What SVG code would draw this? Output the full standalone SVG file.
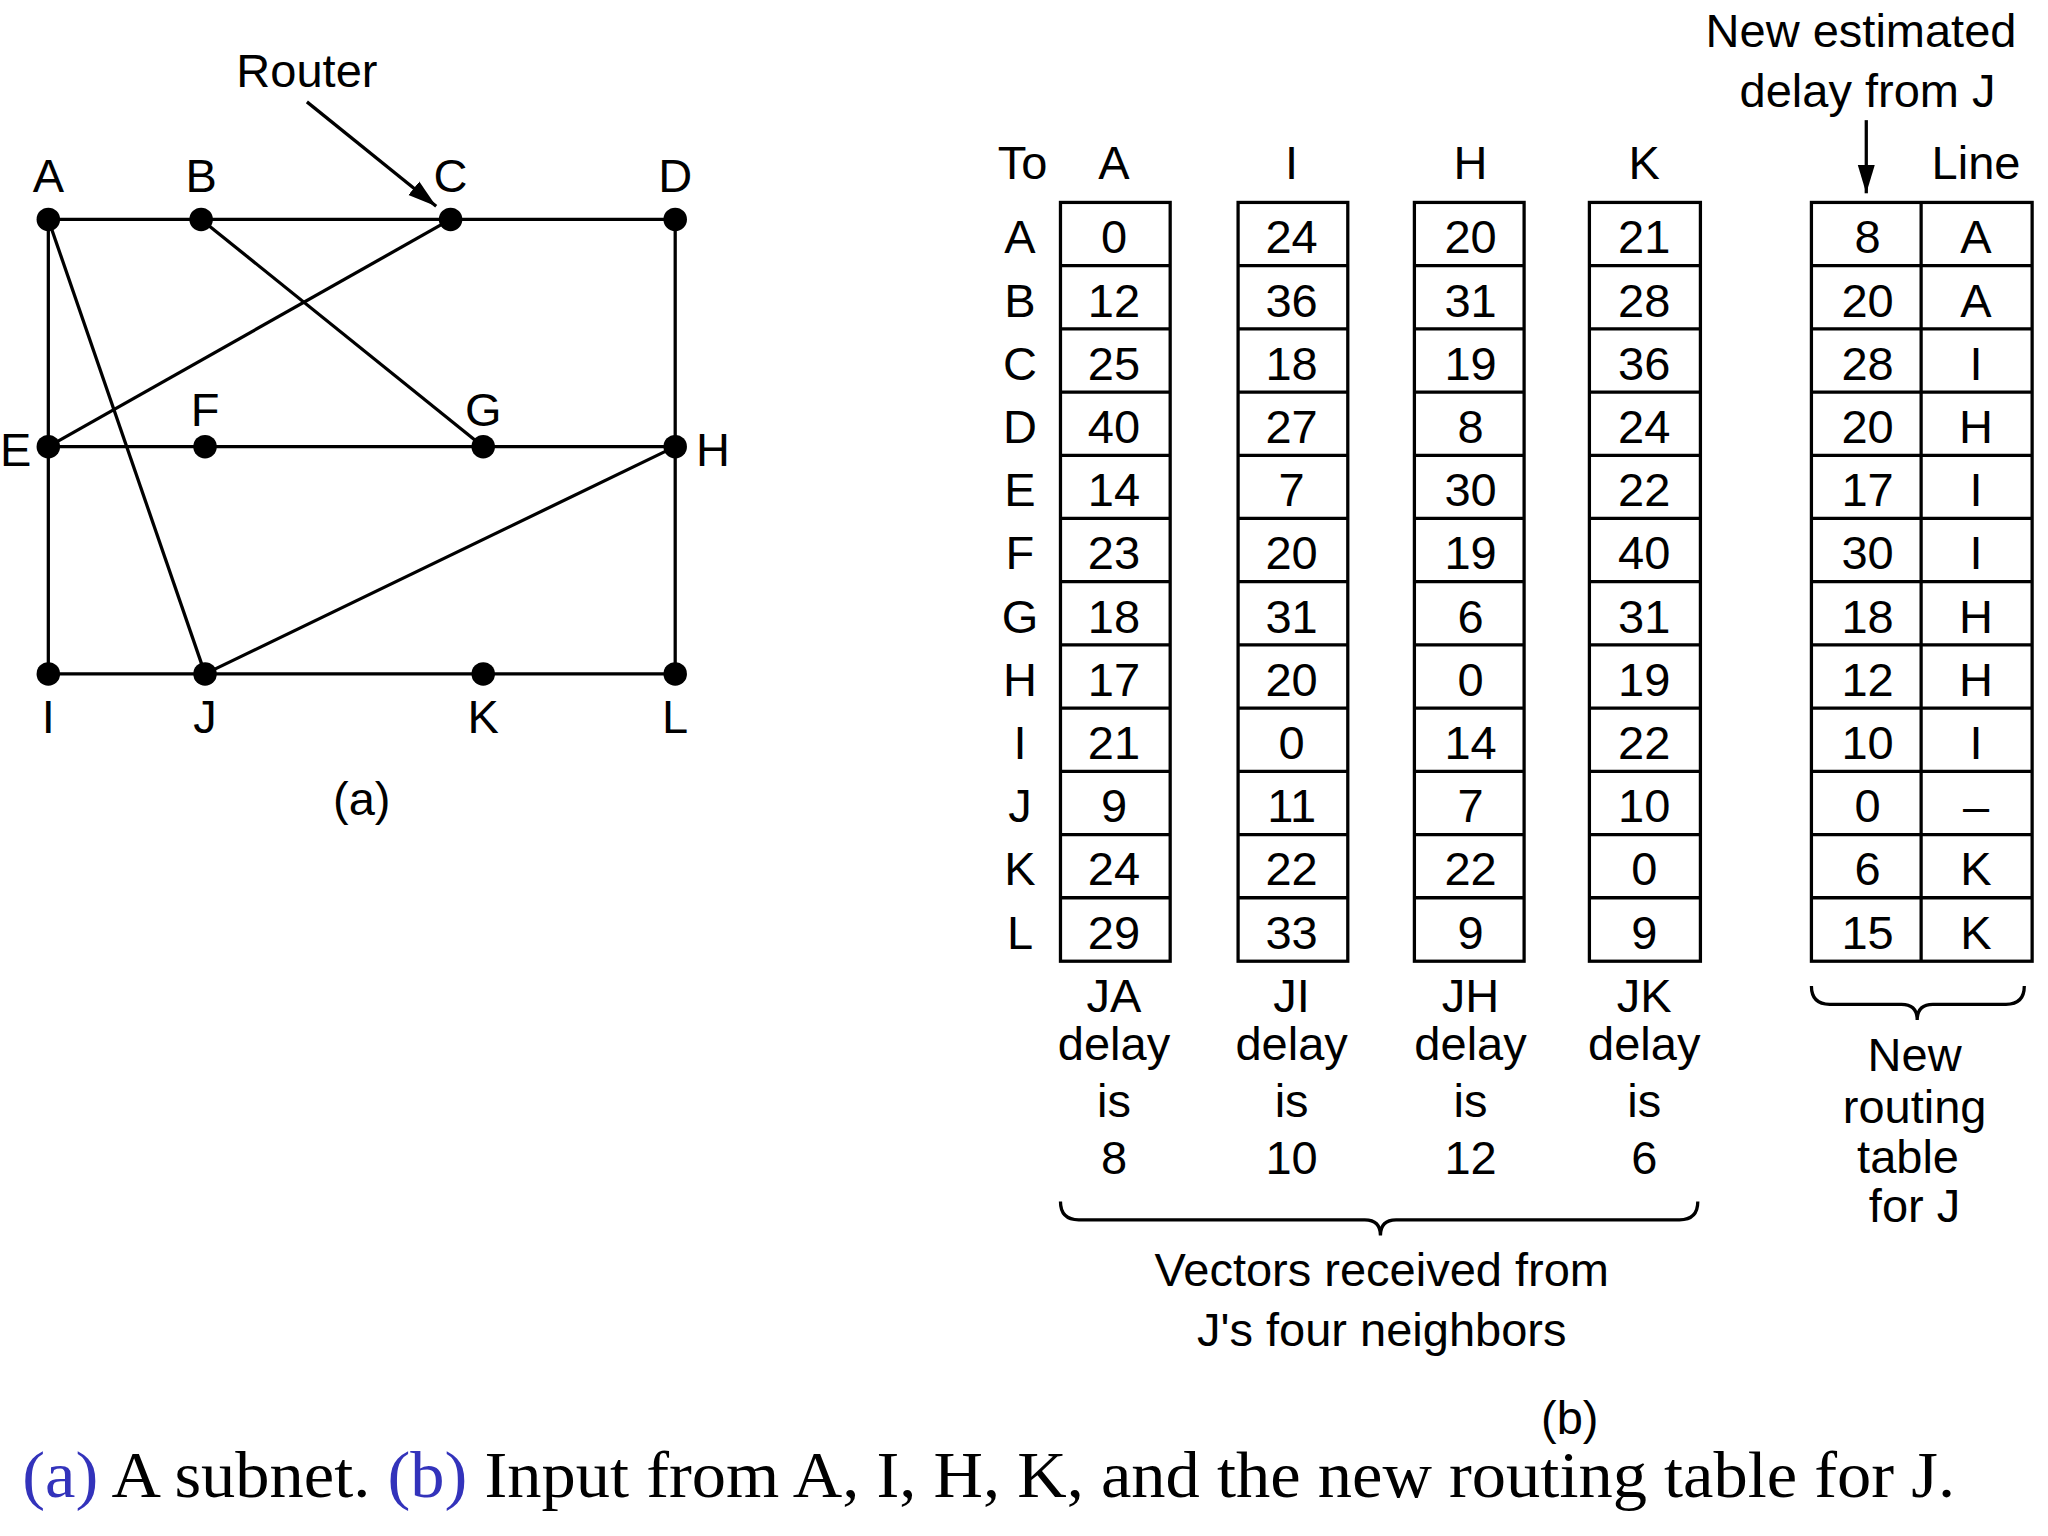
<svg xmlns="http://www.w3.org/2000/svg" width="2048" height="1536" viewBox="0 0 2048 1536">
<defs>
<marker id="ah2" viewBox="0 0 10 10" refX="10" refY="5" markerWidth="22" markerHeight="22" markerUnits="userSpaceOnUse" orient="auto"><path d="M0,2 L10,5 L0,8 z" fill="#000"/></marker>
</defs>
<style>
text{font-family:"Liberation Sans",Arial,sans-serif;font-size:36px;text-anchor:middle;fill:#000}
.e{stroke:#000;stroke-width:2.5;fill:none}
.c{fill:#fff;stroke:#000;stroke-width:2.5}
.cap{font-family:"Liberation Serif","Times New Roman",serif;font-size:50px;text-anchor:start}
.b{fill:#3333bb}
</style>
<rect width="2048" height="1536" fill="#fff"/>
<g transform="scale(1.306)">
<g id="connectors">
<line class="e" x1="37" y1="168" x2="517" y2="168"/>
<line class="e" x1="37" y1="168" x2="37" y2="516"/>
<line class="e" x1="517" y1="168" x2="517" y2="516"/>
<line class="e" x1="37" y1="516" x2="517" y2="516"/>
<line class="e" x1="37" y1="342" x2="517" y2="342"/>
<line class="e" x1="37" y1="168" x2="157" y2="516"/>
<line class="e" x1="154" y1="168" x2="370" y2="342"/>
<line class="e" x1="37" y1="342" x2="345" y2="168"/>
<line class="e" x1="157" y1="516" x2="517" y2="342"/>
<line class="e" x1="235" y1="78" x2="334" y2="158" stroke-width="2" marker-end="url(#ah2)"/>
<line class="e" x1="1429" y1="92" x2="1429" y2="148" stroke-width="2" marker-end="url(#ah2)"/>
</g>
<g id="nodeA"><circle cx="37" cy="168" r="9"/><text x="37" y="147">A</text></g>
<g id="nodeB"><circle cx="154" cy="168" r="9"/><text x="154" y="147">B</text></g>
<g id="nodeC"><circle cx="345" cy="168" r="9"/><text x="345" y="147">C</text></g>
<g id="nodeD"><circle cx="517" cy="168" r="9"/><text x="517" y="147">D</text></g>
<g id="nodeE"><circle cx="37" cy="342" r="9"/><text x="12" y="357">E</text></g>
<g id="nodeF"><circle cx="157" cy="342" r="9"/><text x="157" y="326">F</text></g>
<g id="nodeG"><circle cx="370" cy="342" r="9"/><text x="370" y="326">G</text></g>
<g id="nodeH"><circle cx="517" cy="342" r="9"/><text x="546" y="357">H</text></g>
<g id="nodeI"><circle cx="37" cy="516" r="9"/><text x="37" y="561">I</text></g>
<g id="nodeJ"><circle cx="157" cy="516" r="9"/><text x="157" y="561">J</text></g>
<g id="nodeK"><circle cx="370" cy="516" r="9"/><text x="370" y="561">K</text></g>
<g id="nodeL"><circle cx="517" cy="516" r="9"/><text x="517" y="561">L</text></g>
<text x="235" y="67">Router</text>
<text x="277" y="624">(a)</text>

<g id="table">
<text x="783" y="137">To</text><text x="853" y="137">A</text><text x="989" y="137">I</text><text x="1126" y="137">H</text><text x="1259" y="137">K</text><text x="1513" y="137">Line</text>
<text x="1425" y="36">New estimated</text><text x="1430" y="82">delay from J</text>
<g id="cells">
<rect class="c" x="812" y="155" width="84" height="581"/>
<rect class="c" x="948" y="155" width="84" height="581"/>
<rect class="c" x="1083" y="155" width="84" height="581"/>
<rect class="c" x="1217" y="155" width="85" height="581"/>
<rect class="c" x="1387" y="155" width="169" height="581"/>
<line class="e" x1="1471" y1="155" x2="1471" y2="736"/>
<path class="e" d="M812,203.4H896M812,251.8H896M812,300.2H896M812,348.6H896M812,397H896M812,445.4H896M812,493.8H896M812,542.2H896M812,590.6H896M812,639H896M812,687.4H896"/>
<path class="e" d="M948,203.4H1032M948,251.8H1032M948,300.2H1032M948,348.6H1032M948,397H1032M948,445.4H1032M948,493.8H1032M948,542.2H1032M948,590.6H1032M948,639H1032M948,687.4H1032"/>
<path class="e" d="M1083,203.4H1167M1083,251.8H1167M1083,300.2H1167M1083,348.6H1167M1083,397H1167M1083,445.4H1167M1083,493.8H1167M1083,542.2H1167M1083,590.6H1167M1083,639H1167M1083,687.4H1167"/>
<path class="e" d="M1217,203.4H1302M1217,251.8H1302M1217,300.2H1302M1217,348.6H1302M1217,397H1302M1217,445.4H1302M1217,493.8H1302M1217,542.2H1302M1217,590.6H1302M1217,639H1302M1217,687.4H1302"/>
<path class="e" d="M1387,203.4H1556M1387,251.8H1556M1387,300.2H1556M1387,348.6H1556M1387,397H1556M1387,445.4H1556M1387,493.8H1556M1387,542.2H1556M1387,590.6H1556M1387,639H1556M1387,687.4H1556"/>
</g>
<g transform="translate(0,194)"><text x="781">A</text><text x="853">0</text><text x="989">24</text><text x="1126">20</text><text x="1259">21</text><text x="1430">8</text><text x="1513">A</text></g>
<g transform="translate(0,242.4)"><text x="781">B</text><text x="853">12</text><text x="989">36</text><text x="1126">31</text><text x="1259">28</text><text x="1430">20</text><text x="1513">A</text></g>
<g transform="translate(0,290.8)"><text x="781">C</text><text x="853">25</text><text x="989">18</text><text x="1126">19</text><text x="1259">36</text><text x="1430">28</text><text x="1513">I</text></g>
<g transform="translate(0,339.2)"><text x="781">D</text><text x="853">40</text><text x="989">27</text><text x="1126">8</text><text x="1259">24</text><text x="1430">20</text><text x="1513">H</text></g>
<g transform="translate(0,387.6)"><text x="781">E</text><text x="853">14</text><text x="989">7</text><text x="1126">30</text><text x="1259">22</text><text x="1430">17</text><text x="1513">I</text></g>
<g transform="translate(0,436)"><text x="781">F</text><text x="853">23</text><text x="989">20</text><text x="1126">19</text><text x="1259">40</text><text x="1430">30</text><text x="1513">I</text></g>
<g transform="translate(0,484.4)"><text x="781">G</text><text x="853">18</text><text x="989">31</text><text x="1126">6</text><text x="1259">31</text><text x="1430">18</text><text x="1513">H</text></g>
<g transform="translate(0,532.8)"><text x="781">H</text><text x="853">17</text><text x="989">20</text><text x="1126">0</text><text x="1259">19</text><text x="1430">12</text><text x="1513">H</text></g>
<g transform="translate(0,581.2)"><text x="781">I</text><text x="853">21</text><text x="989">0</text><text x="1126">14</text><text x="1259">22</text><text x="1430">10</text><text x="1513">I</text></g>
<g transform="translate(0,629.6)"><text x="781">J</text><text x="853">9</text><text x="989">11</text><text x="1126">7</text><text x="1259">10</text><text x="1430">0</text><text x="1513">–</text></g>
<g transform="translate(0,678)"><text x="781">K</text><text x="853">24</text><text x="989">22</text><text x="1126">22</text><text x="1259">0</text><text x="1430">6</text><text x="1513">K</text></g>
<g transform="translate(0,726.4)"><text x="781">L</text><text x="853">29</text><text x="989">33</text><text x="1126">9</text><text x="1259">9</text><text x="1430">15</text><text x="1513">K</text></g>
<g><text x="853" y="775">JA</text><text x="853" y="812">delay</text><text x="853" y="855">is</text><text x="853" y="899">8</text></g>
<g><text x="989" y="775">JI</text><text x="989" y="812">delay</text><text x="989" y="855">is</text><text x="989" y="899">10</text></g>
<g><text x="1126" y="775">JH</text><text x="1126" y="812">delay</text><text x="1126" y="855">is</text><text x="1126" y="899">12</text></g>
<g><text x="1259" y="775">JK</text><text x="1259" y="812">delay</text><text x="1259" y="855">is</text><text x="1259" y="899">6</text></g>
<path class="e" d="M812,920 Q812,934 826,934 H1045 Q1057,934 1057,946 Q1057,934 1069,934 H1286 Q1300,934 1300,920"/>
<path class="e" d="M1387,755 Q1387,769 1401,769 H1456 Q1468,769 1468,781 Q1468,769 1480,769 H1536 Q1550,769 1550,755"/>
<text x="1058" y="985">Vectors received from</text><text x="1058" y="1031">J's four neighbors</text>
<text x="1466" y="820">New</text><text x="1466" y="860">routing</text><text x="1461" y="898">table</text><text x="1466" y="936">for J</text>
<text x="1202" y="1098">(b)</text>
</g>
<text class="cap" x="17" y="1146" textLength="1480" lengthAdjust="spacingAndGlyphs"><tspan class="b">(a)</tspan> A subnet. <tspan class="b">(b)</tspan> Input from A, I, H, K, and the new routing table for J.</text>
</g>
</svg>
